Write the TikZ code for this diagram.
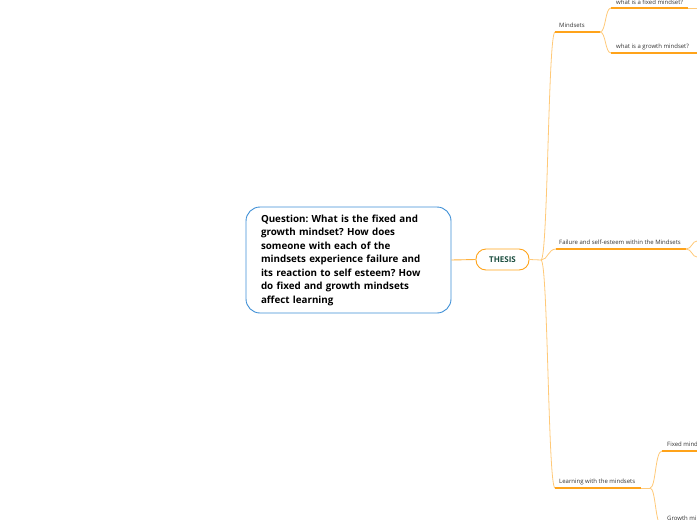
\documentclass[tikz,border=0pt]{standalone}
\usepackage{fontspec}
\setmainfont{Open Sans}
\frenchspacing
\definecolor{mmorange}{HTML}{FFA31A}
\definecolor{mmlight}{HTML}{FFC978}
\definecolor{mmblue}{HTML}{3D8FD6}
\definecolor{mmteal}{HTML}{1B4D3E}
\definecolor{mmtext}{HTML}{333333}

\begin{document}
\begin{tikzpicture}[x=1pt, y=-1pt, font=\fontsize{6}{7}\selectfont,
  branch/.style={draw=mmlight, line width=0.8pt},
  underline/.style={draw=mmorange, line width=1.3pt},
  leaf/.style={anchor=base west, inner sep=0pt, text=mmtext}]
% thesis mind map: question box, THESIS hub and its three topics
\clip (0,0) rectangle (697,520);
\node[draw=mmblue, line width=0.9pt, rounded corners=14pt, fill=white,
  minimum width=205pt, minimum height=106pt, text width=175pt, align=left,
  inner sep=0pt, font=\fontsize{9.8}{13.5}\selectfont\bfseries] (question) at (348.5,260)
  {Question: What is the fixed and\\ growth mindset? How does\\ someone with each of the\\
   mindsets experience failure and\\ its reaction to self esteem? How\\
   do fixed and growth mindsets\\ affect learning};
\node[draw=mmorange, line width=0.9pt, rounded corners=10pt, minimum width=53pt,
  minimum height=21pt, inner sep=0pt, text=mmteal,
  font=\fontsize{8}{9}\selectfont\bfseries] (thesis) at (502.5,259.5) {THESIS};

\coordinate (hub) at (541,260);
\coordinate (mindsetsL) at (555,32);
\coordinate (mindsetsR) at (600,32);
\coordinate (fixedQL) at (611,8);
\coordinate (fixedQR) at (688,8);
\coordinate (fixedQE) at (697,8);
\coordinate (growthQL) at (611,53);
\coordinate (growthQR) at (697,53);
\coordinate (failureL) at (556,249);
\coordinate (failureR) at (686,249);
\coordinate (failureUp) at (697,241);
\coordinate (failureDn) at (697,257);
\coordinate (learningL) at (555,488);
\coordinate (learningR) at (641,488);
\coordinate (learningJ) at (650,488);
\coordinate (fixedLL) at (662,451);
\coordinate (fixedLR) at (697,451);
\coordinate (growthLL) at (662,526);

\node[leaf] (mindsets) at (559,27) {Mindsets};
\node[leaf] (fixedQ) at (616,4) {what is a fixed mindset?};
\node[leaf] (growthQ) at (616,48) {what is a growth mindset?};
\node[leaf] (failure) at (559,244) {Failure and self-esteem within the Mindsets};
\node[leaf] (learning) at (559,483) {Learning with the mindsets};
\node[leaf] (fixedL) at (667,446) {Fixed mind};
\node[leaf] (growthL) at (667,520) {Growth mi};

\draw[draw=mmorange!85, line width=0.9pt] (question.east) -- (thesis.west);
\draw[branch] (thesis.east) -- (hub);

\draw[branch] (hub) .. controls (548,260) and (548,32) .. (mindsetsL);
\draw[underline] (mindsetsL) -- (mindsetsR);
\draw[branch] (mindsetsR) .. controls (606,32) and (605,8) .. (fixedQL);
\draw[branch] (mindsetsR) .. controls (606,32) and (605,53) .. (growthQL);
\draw[underline] (fixedQL) -- (fixedQR);
\draw[branch] (fixedQR) -- (fixedQE);
\draw[underline] (growthQL) -- (growthQR);

\draw[branch] (hub) .. controls (548,260) and (548,249) .. (failureL);
\draw[underline] (failureL) -- (failureR);
\draw[branch] (failureR) .. controls (692,249) and (692,241) .. (failureUp);
\draw[branch] (failureR) .. controls (692,249) and (692,257) .. (failureDn);

\draw[branch] (hub) .. controls (548,260) and (548,488) .. (learningL);
\draw[underline] (learningL) -- (learningR);
\draw[branch] (learningR) -- (learningJ);
\draw[branch] (learningJ) .. controls (656,488) and (655,451) .. (fixedLL);
\draw[branch] (learningJ) .. controls (656,488) and (655,526) .. (growthLL);
\draw[underline] (fixedLL) -- (fixedLR);
\end{tikzpicture}
\end{document}
